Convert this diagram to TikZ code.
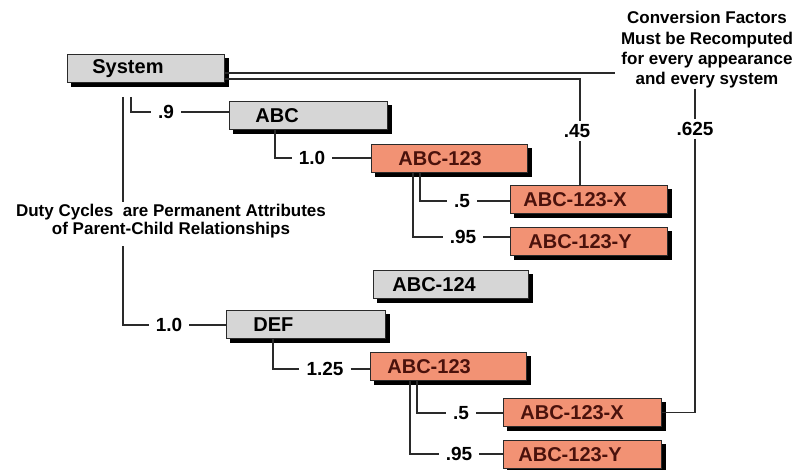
\documentclass[tikz,border=0pt]{standalone}
\usepackage{fontspec}
\setmainfont{Liberation Sans}
\usetikzlibrary{calc}
\definecolor{boxgray}{HTML}{D6D6D6}
\definecolor{salmon}{HTML}{F29274}
\definecolor{maroon}{HTML}{4A120C}
\definecolor{linec}{HTML}{2A2A2A}
\tikzset{
  bx/.style={draw=linec, line width=0.8pt, anchor=north west, minimum height=28pt,
    inner ysep=0pt, align=left, font=\bfseries\fontsize{20}{22}\selectfont,
    preaction={draw=black, fill=black, line width=1.2pt, transform canvas={xshift=4pt, yshift=-4pt}}},
  gbox/.style={bx, fill=boxgray, text=black},
  obox/.style={bx, fill=salmon, text=maroon},
  lab/.style={font=\bfseries\fontsize{19}{21}\selectfont, inner xsep=7pt, inner ysep=3pt},
  conn/.style={draw=linec, line width=1.1pt},
  note/.style={font=\bfseries\fontsize{17}{20.3}\selectfont, align=center}
}
\begin{document}
\begin{tikzpicture}[x=1pt,y=-1pt]
\useasboundingbox (0,0) rectangle (807,470);
% boxes
\node[gbox, text width=107pt, inner xsep=25pt] (sys)  at (67,54)   {System};
\node[gbox, text width=106pt, inner xsep=26pt] (abc)  at (229,101) {ABC};
\node[obox, text width=102pt, inner xsep=27pt] (t123) at (371,144) {ABC-123};
\node[obox, text width=131pt, inner xsep=13pt] (tx)   at (510,185) {ABC-123-X};
\node[obox, text width=121pt, inner xsep=18pt] (ty)   at (510,227) {ABC-123-Y};
\node[gbox, text width=117pt, inner xsep=19pt] (a124) at (373,270) {ABC-124};
\node[gbox, text width=105pt, inner xsep=27pt] (def)  at (226,310) {DEF};
\node[obox, text width=122pt, inner xsep=17pt] (b123) at (370,352) {ABC-123};
\node[obox, text width=124pt, inner xsep=17pt] (bx)   at (503,398) {ABC-123-X};
\node[obox, text width=128pt, inner xsep=15pt] (by)   at (503,440) {ABC-123-Y};
% labels
\node[lab] (l9)   at (166,112) {.9};
\node[lab] (l10a) at (312,158) {1.0};
\node[lab] (l5a)  at (462,201) {.5};
\node[lab] (l95a) at (463,237) {.95};
\node[lab] (l10b) at (169,325) {1.0};
\node[lab] (l125) at (325,369) {1.25};
\node[lab] (l5b)  at (461,413) {.5};
\node[lab] (l95b) at (459,454) {.95};
\node[lab] (l45)  at (577,131) {.45};
\node[lab] (l625) at (695,129) {.625};
% notes
\node[note, inner sep=0pt] (cf) at (707,50)
  {Conversion Factors\\Must be Recomputed\\for every appearance\\and every system};
\node[note, font=\bfseries\fontsize{17}{18}\selectfont, inner xsep=0pt, inner ysep=2pt] (duty) at (171,221)
  {Duty Cycles\ \ are Permanent Attributes\\of Parent-Child Relationships};
% connectors
\coordinate (s1) at (131,97);
\coordinate (s2) at (123,97);
\coordinate (k45) at (580,79);
\coordinate (e73) at (615,73);
\draw[conn] (s1) |- (l9);
\draw[conn] (l9) -- (l9 -| abc.west);
\draw[conn] ($(abc.south west)+(46,0)$) |- (l10a);
\draw[conn] (l10a) -- (l10a -| t123.west);
\draw[conn] ($(t123.south west)+(49,0)$) |- (l5a);
\draw[conn] ($(t123.south west)+(42,0)$) |- (l95a);
\draw[conn] (l5a) -- (l5a -| tx.west);
\draw[conn] (l95a) -- (l95a -| ty.west);
\draw[conn] (s2) -- (s2 |- duty.north);
\draw[conn] ($(s2 |- duty.south)+(0,6)$) |- (l10b);
\draw[conn] (l10b) -- (l10b -| def.west);
\draw[conn] ($(def.south west)+(47,0)$) |- (l125);
\draw[conn] (l125) -- (l125 -| b123.west);
\draw[conn] ($(b123.south west)+(47,0)$) |- (l5b);
\draw[conn] ($(b123.south west)+(40,0)$) |- (l95b);
\draw[conn] (l5b) -- (l5b -| bx.west);
\draw[conn] (l95b) -- (l95b -| by.west);
\draw[conn] (sys.east |- e73) -- (e73);
\draw[conn] (sys.east |- k45) -- (k45) -- (k45 |- l45.north);
\draw[conn] (k45 |- l45.south) -- (k45 |- tx.north);
\draw[conn] (l625 |- cf.south) -- (l625.north);
\draw[conn] (l625.south) |- (bx.east);
\end{tikzpicture}
\end{document}
